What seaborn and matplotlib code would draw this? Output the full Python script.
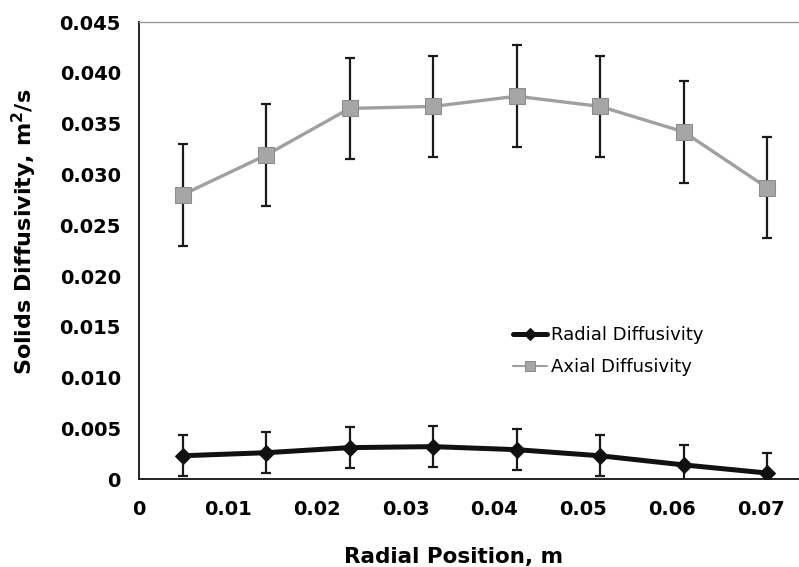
import numpy as np
import pandas as pd
import matplotlib
matplotlib.use("Agg")
import matplotlib.pyplot as plt
from matplotlib.ticker import FuncFormatter, MultipleLocator
import seaborn as sns

# Radial positions of the measurement points (m)
radial_position = [0.0049, 0.0143, 0.0237, 0.0331, 0.0425, 0.0519, 0.0613, 0.0707]

# Solids diffusivity (m^2/s) and their error bar half-widths
radial_diffusivity = [0.0023, 0.0026, 0.0031, 0.0032, 0.0029, 0.0023, 0.0014, 0.0006]
radial_error = [0.002, 0.002, 0.002, 0.002, 0.002, 0.002, 0.002, 0.002]
axial_diffusivity = [0.0280, 0.0319, 0.0365, 0.0367, 0.0377, 0.0367, 0.0342, 0.0287]
axial_error = [0.005, 0.005, 0.005, 0.005, 0.005, 0.005, 0.005, 0.005]

series_names = ["Radial Diffusivity", "Axial Diffusivity"]

df = pd.DataFrame({
    "x": radial_position * 2,
    "y": radial_diffusivity + axial_diffusivity,
    "series": [series_names[0]] * len(radial_position) + [series_names[1]] * len(radial_position),
})

sns.set_style("white")
plt.rcParams["font.family"] = ["DejaVu Sans"]
plt.rcParams["text.color"] = "black"
plt.rcParams["axes.labelcolor"] = "black"
plt.rcParams["xtick.color"] = "black"
plt.rcParams["ytick.color"] = "black"

fig = plt.figure(figsize=(7.99, 5.67), dpi=100)
ax = fig.add_axes([0.174, 0.155, 0.826, 0.806])

# Error bars first so the lines sit on top
ax.errorbar(radial_position, axial_diffusivity, yerr=axial_error, fmt="none",
            ecolor="#1a1a1a", elinewidth=1.6, capsize=3.5, capthick=1.6, zorder=2)
ax.errorbar(radial_position, radial_diffusivity, yerr=radial_error, fmt="none",
            ecolor="#1a1a1a", elinewidth=1.6, capsize=3.5, capthick=1.6, zorder=2)

sns.lineplot(data=df[df["series"] == series_names[0]], x="x", y="y", ax=ax,
             color="#111111", linewidth=3.6, marker="D", markersize=8,
             markeredgecolor="#111111", label=series_names[0], zorder=4)
sns.lineplot(data=df[df["series"] == series_names[1]], x="x", y="y", ax=ax,
             color="#a0a0a0", linewidth=2.4, marker="s", markersize=11,
             markerfacecolor="#a6a6a6", markeredgecolor="#8c8c8c",
             label=series_names[1], zorder=3)

ax.set_xlim(0, 0.0743)
ax.set_ylim(0, 0.045)
ax.xaxis.set_major_locator(MultipleLocator(0.01))
ax.yaxis.set_major_locator(MultipleLocator(0.005))


def _fmt_x(v, pos):
    return "0" if abs(v) < 1e-12 else f"{v:.2f}"


def _fmt_y(v, pos):
    return "0" if abs(v) < 1e-12 else f"{v:.3f}"


ax.xaxis.set_major_formatter(FuncFormatter(_fmt_x))
ax.yaxis.set_major_formatter(FuncFormatter(_fmt_y))

ax.tick_params(axis="both", which="major", direction="out", length=5, width=1,
               color="#555555", labelcolor="black", labelsize=14, pad=8)
ax.tick_params(axis="x", pad=10)
for lab in ax.get_xticklabels() + ax.get_yticklabels():
    lab.set_fontweight("bold")

ax.set_xlabel("Radial Position, m", fontsize=15.5, fontweight="bold", color="black")
ax.set_ylabel("Solids Diffusivity, m$^\\mathbf{2}$/s", fontsize=16, fontweight="bold",
              color="black")
ax.xaxis.set_label_coords(0.476, -0.148)
ax.yaxis.set_label_coords(-0.152, 0.54)

for side in ["left", "bottom"]:
    ax.spines[side].set_color("#222222")
    ax.spines[side].set_linewidth(1.4)
ax.spines["top"].set_color("#9a9a9a")
ax.spines["top"].set_linewidth(1.0)
ax.spines["right"].set_visible(False)

leg = ax.legend(loc="upper left", bbox_to_anchor=(0.555, 0.35), frameon=False,
                fontsize=13, handlelength=1.9, handletextpad=0.25, labelspacing=0.75,
                borderaxespad=0)
for txt in leg.get_texts():
    txt.set_color("black")
leg.legend_handles[1].set_markersize(7)
leg.legend_handles[1].set_linewidth(1.5)
leg.legend_handles[0].set_markersize(6)

fig.savefig("out.png", dpi=100)
